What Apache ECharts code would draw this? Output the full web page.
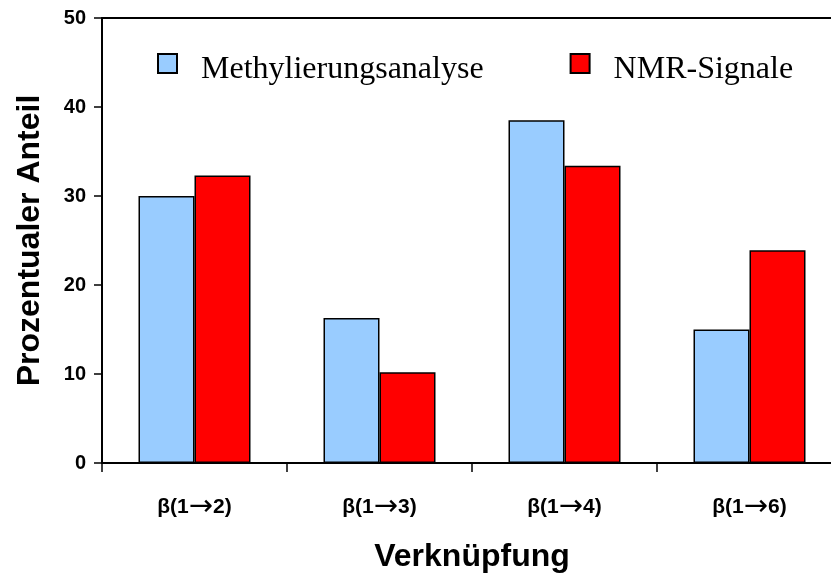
<!DOCTYPE html>
<html>
<head>
<meta charset="utf-8">
<script src="https://cdn.jsdelivr.net/npm/echarts@6/dist/echarts.min.js"></script>
<style>
html,body{margin:0;padding:0;background:#fff;}
#c{width:831px;height:574px;}
</style>
</head>
<body>
<div id="c"></div>
<script>
const categories = ['β(1→2)', 'β(1→3)', 'β(1→4)', 'β(1→6)'];
const methylierung = [30.0, 16.3, 38.5, 15.0];
const nmrSignale = [32.3, 10.2, 33.4, 23.9];
const seriesNames = ['Methylierungsanalyse', 'NMR-Signale'];
const yTicks = [0, 10, 20, 30, 40, 50];

const chart = echarts.init(document.getElementById('c'), null, {renderer: 'canvas'});
const sans = 'Liberation Sans, Arial, sans-serif';
const serif = 'Liberation Serif, Times New Roman, serif';
chart.setOption({
  animation: false,
  backgroundColor: '#ffffff',
  grid: {left: 102, top: 18, right: -11, bottom: 111, containLabel: false, outerBoundsMode: 'none'},
  legend: {
    left: 157, top: 53, padding: 0,
    itemWidth: 19, itemHeight: 19, itemGap: 86,
    icon: 'rect',
    data: seriesNames,
    formatter: '{t|{name}}',
    textStyle: {
      color: '#000', padding: [0, 0, 0, 19],
      rich: {t: {fontFamily: serif, fontSize: 32, color: '#000', padding: [13, 0, 0, 0]}}
    }
  },
  xAxis: [{
    type: 'category',
    data: categories,
    position: 'bottom',
    axisLine: {lineStyle: {color: '#000', width: 2}},
    axisTick: {show: true, length: 9, inside: false, lineStyle: {color: '#000', width: 1.5}},
    axisLabel: {
      margin: 30, color: '#000',
      formatter: function (v) {
        const p = v.split('→');
        return '{a|' + p[0] + '}{b|→}{a|' + p[1] + '}';
      },
      rich: {
        a: {fontFamily: sans, fontWeight: 'bold', fontSize: 21, color: '#000'},
        b: {fontFamily: 'DejaVu Sans', fontWeight: 'normal', fontSize: 29, color: '#000'}
      }
    },
    name: 'Verknüpfung',
    nameLocation: 'middle',
    nameGap: 78,
    nameTextStyle: {fontFamily: sans, fontWeight: 'bold', fontSize: 32, color: '#000', verticalAlign: 'top'}
  }, {
    type: 'category',
    data: categories,
    position: 'top',
    axisLine: {show: true, lineStyle: {color: '#000', width: 2}},
    axisTick: {show: false},
    axisLabel: {show: false}
  }],
  yAxis: {
    type: 'value',
    min: yTicks[0], max: yTicks[yTicks.length - 1], interval: 10,
    axisLine: {show: true, lineStyle: {color: '#000', width: 2}},
    axisTick: {show: true, length: 8, lineStyle: {color: '#000', width: 1.5}},
    splitLine: {show: false},
    axisLabel: {margin: 16, fontFamily: sans, fontWeight: 'bold', fontSize: 20, color: '#000'},
    name: 'Prozentualer Anteil',
    nameLocation: 'middle',
    nameGap: 56,
    nameTextStyle: {fontFamily: sans, fontWeight: 'bold', fontSize: 32, color: '#000'}
  },
  series: [{
    name: seriesNames[0],
    type: 'bar',
    data: methylierung,
    barWidth: 56,
    barGap: '0%',
    itemStyle: {color: '#99CCFF', borderColor: '#000', borderWidth: 1.5}
  }, {
    name: seriesNames[1],
    type: 'bar',
    data: nmrSignale,
    barWidth: 56,
    barGap: '0%',
    itemStyle: {color: '#FF0000', borderColor: '#000', borderWidth: 1.5}
  }]
});
</script>
</body>
</html>
